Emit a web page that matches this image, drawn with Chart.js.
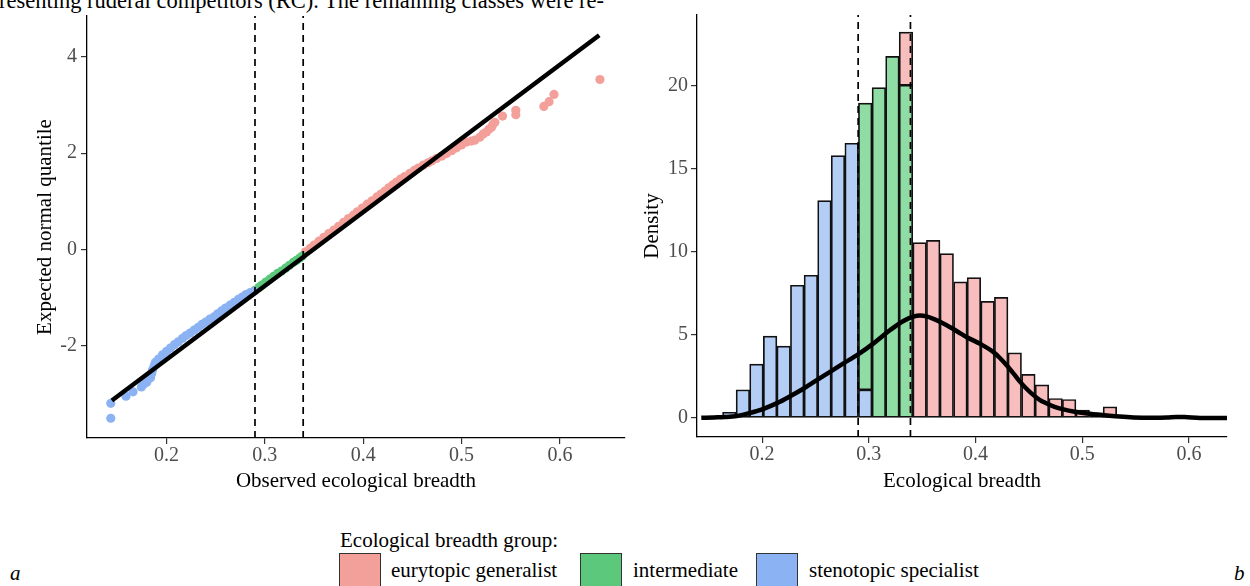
<!DOCTYPE html>
<html>
<head>
<meta charset="utf-8">
<script src="https://cdn.jsdelivr.net/npm/chart.js@4.4.0/dist/chart.umd.min.js"></script>
<style>
  body { margin: 0; width: 1250px; height: 586px; overflow: hidden; background: #fff; position: relative;
         font-family: "Liberation Serif", "Times New Roman", serif; color: #000; }
  .abs { position: absolute; white-space: nowrap; }
  #qqChart { position: absolute; left: 0; top: 0; }
  #histChart { position: absolute; left: 640px; top: 0; }
  .key { position: absolute; top: 553px; width: 42px; height: 42px; box-sizing: border-box; border: 1.5px solid #333; }
  .lbl { position: absolute; top: 557px; font-size: 21px; line-height: 26px; white-space: nowrap; }
</style>
</head>
<body>
<div class="abs" style="left:-1px; top:-10.5px; font-size:22.5px; line-height:22.5px;">resenting ruderal competitors (RC). The remaining classes were re-</div>

<canvas id="qqChart" width="640" height="500"></canvas>
<canvas id="histChart" width="610" height="500"></canvas>

<div class="abs" style="left:340px; top:527px; font-size:21px; line-height:26px;">Ecological breadth group:</div>
<div class="key" style="left:339px; background:#F4A09A;"></div>
<div class="lbl" style="left:391px;">eurytopic generalist</div>
<div class="key" style="left:580px; background:#5CC87B;"></div>
<div class="lbl" style="left:633px;">intermediate</div>
<div class="key" style="left:756px; background:#8BB2F2;"></div>
<div class="lbl" style="left:809px;">stenotopic specialist</div>
<div class="abs" style="left:10px; top:560px; font-size:21px; line-height:26px; font-style:italic;">a</div>
<div class="abs" style="left:1234px; top:560px; font-size:21px; line-height:26px; font-style:italic;">b</div>

<script>
// ---- group thresholds (dashed lines) ----
const thresholds = [0.29, 0.339];

// ---- panel a: QQ plot ----
const qqXTicks = [0.2, 0.3, 0.4, 0.5, 0.6];
const qqXLabels = ['0.2', '0.3', '0.4', '0.5', '0.6'];
const qqYTicks = [-2, 0, 2, 4];
const qqYLabels = ['-2', '0', '2', '4'];
const qqXRange = [0.1192, 0.6662];
const qqYRange = [-3.92, 4.85];

// fitted reference line end points
const fitX = [0.1445, 0.6400];
const fitY = [-3.14, 4.45];

// stenotopic specialist points
const stenoX = [0.1434, 0.1434, 0.1588, 0.1660, 0.1745, 0.1770, 0.1800, 0.1838, 0.1850, 0.1859, 0.1875, 0.1887,
  0.1920, 0.1960, 0.2000, 0.2040, 0.2080, 0.2120, 0.2162, 0.2200, 0.2240, 0.2280, 0.2323, 0.2360, 0.2400,
  0.2440, 0.2485, 0.2520, 0.2560, 0.2600, 0.2646, 0.2690, 0.2730, 0.2770, 0.2808, 0.2850, 0.2889];
const stenoY = [-3.51, -3.20, -3.05, -2.96, -2.86, -2.80, -2.76, -2.67, -2.58, -2.50, -2.42, -2.35,
  -2.28, -2.19, -2.12, -2.05, -1.98, -1.92, -1.85, -1.79, -1.74, -1.68, -1.62, -1.56, -1.51,
  -1.45, -1.40, -1.34, -1.28, -1.22, -1.16, -1.10, -1.04, -0.99, -0.94, -0.90, -0.87];

// intermediate points
const interX = [0.2900, 0.2940, 0.2970, 0.3010, 0.3050, 0.3090, 0.3130, 0.3170, 0.3210, 0.3250, 0.3290, 0.3320, 0.3354, 0.3380];
const interY = [-0.85, -0.79, -0.74, -0.68, -0.62, -0.56, -0.50, -0.45, -0.39, -0.33, -0.27, -0.23, -0.18, -0.14];

// eurytopic generalist points
const euryX = [0.3414, 0.3460, 0.3500, 0.3550, 0.3600, 0.3650, 0.3700, 0.3750, 0.3800, 0.3850, 0.3900, 0.3940,
  0.3990, 0.4040, 0.4090, 0.4140, 0.4180, 0.4220, 0.4260, 0.4300, 0.4339, 0.4380, 0.4420, 0.4474, 0.4520,
  0.4560, 0.4610, 0.4660, 0.4700, 0.4746, 0.4800, 0.4847, 0.4900, 0.4949, 0.5000, 0.5050, 0.5100, 0.5135,
  0.5186, 0.5220, 0.5254, 0.5280, 0.5305, 0.5320, 0.5339, 0.5417, 0.5552, 0.5552, 0.5837, 0.5890, 0.5940, 0.6407];
const euryY = [-0.05, 0.02, 0.09, 0.17, 0.25, 0.33, 0.40, 0.48, 0.56, 0.64, 0.71, 0.78,
  0.86, 0.94, 1.01, 1.09, 1.15, 1.21, 1.28, 1.34, 1.40, 1.46, 1.51, 1.58, 1.64,
  1.69, 1.75, 1.80, 1.84, 1.89, 1.94, 1.99, 2.05, 2.11, 2.17, 2.23, 2.25, 2.27,
  2.33, 2.40, 2.44, 2.50, 2.54, 2.60, 2.64, 2.77, 2.80, 2.89, 2.97, 3.07, 3.22, 3.53];

// ---- panel b: histogram + density ----
const histXTicks = [0.2, 0.3, 0.4, 0.5, 0.6];
const histXLabels = ['0.2', '0.3', '0.4', '0.5', '0.6'];
const histYTicks = [0, 5, 10, 15, 20];
const histYLabels = ['0', '5', '10', '15', '20'];
const histXRange = [0.139, 0.6356];
const histYRange = [-1.14, 24.27];

const binMid = [0.1566, 0.1693, 0.1820, 0.1947, 0.2075, 0.2202, 0.2329, 0.2457, 0.2584, 0.2711,
  0.2839, 0.2966, 0.3094, 0.3221, 0.3348, 0.3476, 0.3603, 0.3730, 0.3858, 0.3985,
  0.4113, 0.4240, 0.4367, 0.4495, 0.4622, 0.4750, 0.4877, 0.5004, 0.5132, 0.5259,
  0.5387, 0.5514, 0.5641, 0.5769, 0.5896, 0.6024, 0.6151, 0.6278];
const stenoDens = [0.12, 0.35, 1.70, 3.25, 4.94, 4.33, 8.00, 8.60, 13.10, 15.80,
  16.55, 1.70, 0, 0, 0, 0, 0, 0, 0, 0,
  0, 0, 0, 0, 0, 0, 0, 0, 0, 0,
  0, 0, 0, 0, 0, 0, 0, 0];
const interDens = [0, 0, 0, 0, 0, 0, 0, 0, 0, 0,
  0, 17.26, 19.90, 21.78, 20.04, 0, 0, 0, 0, 0,
  0, 0, 0, 0, 0, 0, 0, 0, 0, 0,
  0, 0, 0, 0, 0, 0, 0, 0];
const euryDens = [0, 0, 0, 0, 0, 0, 0, 0, 0, 0,
  0, 0, 0, 0, 3.20, 10.56, 10.70, 9.90, 8.20, 8.46,
  7.03, 7.27, 3.93, 2.63, 2.00, 1.18, 1.12, 0.48, 0.30, 0.68,
  0.10, 0, 0, 0, 0.14, 0, 0, 0];

// kernel density curve
const densX = [0.1430, 0.1550, 0.1650, 0.1763, 0.1880, 0.2013, 0.2140, 0.2262, 0.2390, 0.2512, 0.2640, 0.2762,
  0.2903, 0.3044, 0.3200, 0.3324, 0.3418, 0.3481, 0.3540, 0.3606, 0.3680, 0.3762, 0.3840, 0.3918,
  0.4043, 0.4168, 0.4230, 0.4293, 0.4360, 0.4418, 0.4480, 0.4543, 0.4600, 0.4668, 0.4740, 0.4824,
  0.4930, 0.5043, 0.5230, 0.5350, 0.5480, 0.5650, 0.5793, 0.5880, 0.5960, 0.6105, 0.6356];
const densY = [0.02, 0.04, 0.06, 0.12, 0.30, 0.56, 0.90, 1.31, 1.78, 2.28, 2.80, 3.29,
  3.85, 4.50, 5.30, 5.85, 6.11, 6.17, 6.12, 5.97, 5.75, 5.47, 5.17, 4.87,
  4.47, 3.97, 3.60, 3.17, 2.65, 2.18, 1.75, 1.38, 1.10, 0.88, 0.68, 0.52,
  0.38, 0.28, 0.16, 0.09, 0.04, 0.02, 0.03, 0.07, 0.06, 0.01, 0.00];

const pointColors = { eury: '#F4A09A', inter: '#5CC87B', steno: '#8BB2F2' };
const barColors = { eury: '#F8BEBE', inter: '#8FDCA5', steno: '#B3CDF5' };

Chart.defaults.font.family = '"Liberation Serif", "Times New Roman", serif';

function toPoints(xs, ys) {
    return xs.map((x, i) => ({ x: x, y: ys[i] }));
}

function dashedLine(x, range) {
    return {
        data: [{ x: x, y: range[0] }, { x: x, y: range[1] }],
        showLine: true, borderColor: '#000', borderWidth: 1.7, borderDash: [7, 5],
        pointRadius: 0, fill: false
    };
}

// axis styling shared by both panels
function axis(range, ticks, labels, size, title, titlePad, tickPad) {
    return {
        type: 'linear', min: range[0], max: range[1], offset: false,
        afterBuildTicks: s => { s.ticks = ticks.map(v => ({ value: v })); },
        afterFit: s => { if (s.isHorizontal()) s.height = size; else s.width = size; },
        grid: { display: true, drawOnChartArea: false, drawTicks: true, tickLength: 6, color: '#333', lineWidth: 1.2, offset: false },
        border: { display: true, color: '#000', width: 1.3 },
        ticks: { color: '#4D4D4D', font: { size: 20 }, padding: tickPad, maxRotation: 0,
                 callback: (v, i) => labels[i] },
        title: { display: true, text: title, color: '#000', font: { size: 21 }, padding: titlePad }
    };
}

const qqChart = new Chart(document.getElementById('qqChart'), {
    type: 'scatter',
    data: {
        datasets: [
            { data: toPoints(fitX, fitY), showLine: true, borderColor: '#000', borderWidth: 4.5, pointRadius: 0 },
            dashedLine(thresholds[0], qqYRange),
            dashedLine(thresholds[1], qqYRange),
            { data: toPoints(stenoX, stenoY), backgroundColor: pointColors.steno, borderWidth: 0, pointRadius: 4.6 },
            { data: toPoints(interX, interY), backgroundColor: pointColors.inter, borderWidth: 0, pointRadius: 4.6 },
            { data: toPoints(euryX, euryY), backgroundColor: pointColors.eury, borderWidth: 0, pointRadius: 4.6 }
        ]
    },
    options: {
        responsive: false,
        animation: false,
        layout: { padding: { left: 0, right: 15, top: 12, bottom: 0 } },
        plugins: { legend: { display: false }, tooltip: { enabled: false } },
        scales: {
            x: axis(qqXRange, qqXTicks, qqXLabels, 62, 'Observed ecological breadth', { top: 0, bottom: 6 }, 0),
            y: axis(qqYRange, qqYTicks, qqYLabels, 87, 'Expected normal quantile', { top: 33, bottom: 0 }, 4)
        }
    }
});

// stacked histogram bars as floating bars
function bars(values, below) {
    return binMid.map((x, i) => ({ x: x, y: [below[i], below[i] + values[i]] }))
        .filter(d => d.y[1] > d.y[0]);
}
const zeroBase = binMid.map(() => 0);
const interBase = stenoDens.slice();
const euryBase = stenoDens.map((v, i) => v + interDens[i]);

function barSet(values, below, color) {
    return {
        type: 'bar', data: bars(values, below), backgroundColor: color,
        borderColor: '#111', borderWidth: 1.7, borderSkipped: false,
        grouped: false, barPercentage: 1, categoryPercentage: 1
    };
}

const histChart = new Chart(document.getElementById('histChart'), {
    type: 'bar',
    data: {
        datasets: [
            { type: 'line', data: toPoints(densX, densY), borderColor: '#000', borderWidth: 4.5,
              pointRadius: 0, tension: 0.4, cubicInterpolationMode: 'monotone', fill: false },
            Object.assign({ type: 'line' }, dashedLine(thresholds[0], histYRange)),
            Object.assign({ type: 'line' }, dashedLine(thresholds[1], histYRange)),
            barSet(stenoDens, zeroBase, barColors.steno),
            barSet(interDens, interBase, barColors.inter),
            barSet(euryDens, euryBase, barColors.eury)
        ]
    },
    options: {
        responsive: false,
        animation: false,
        layout: { padding: { left: 0, right: 23, top: 12, bottom: 0 } },
        plugins: { legend: { display: false }, tooltip: { enabled: false } },
        scales: {
            x: axis(histXRange, histXTicks, histXLabels, 63, 'Ecological breadth', { top: 0, bottom: 6 }, 0),
            y: axis(histYRange, histYTicks, histYLabels, 57, 'Density', { top: 0, bottom: 0 }, 3)
        }
    }
});
</script>
</body>
</html>
